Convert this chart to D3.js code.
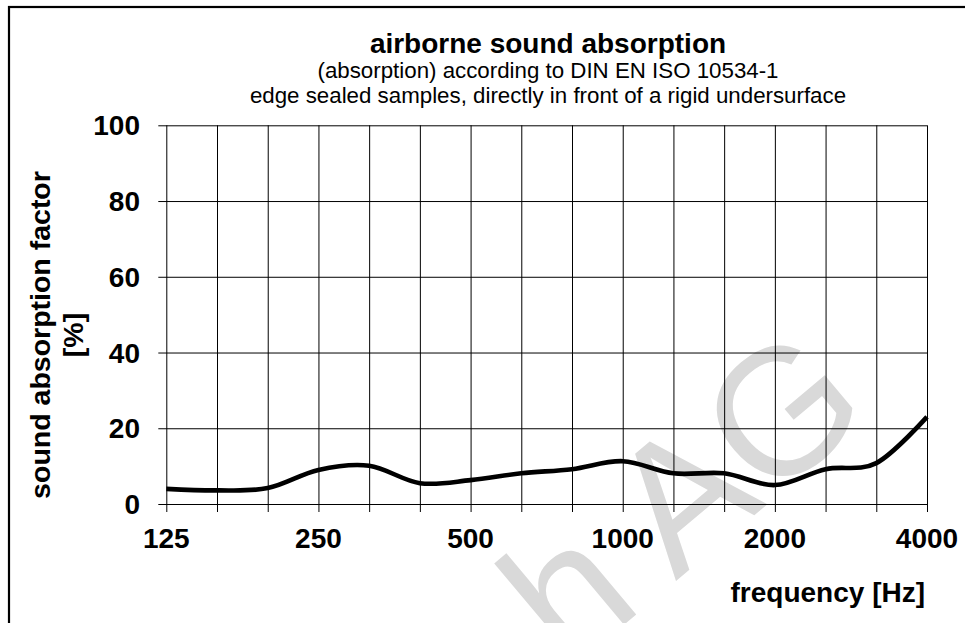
<!DOCTYPE html>
<html>
<head>
<meta charset="utf-8">
<script src="https://cdn.jsdelivr.net/npm/d3@7"></script>
<style>
  html, body { margin: 0; padding: 0; background: #fff; }
  svg { display: block; font-family: "Liberation Sans", Arial, sans-serif; }
</style>
</head>
<body>
<svg id="chart" width="965" height="623"></svg>
<script>
// ---- data ----
const bands = ["125","160","200","250","315","400","500","630","800","1000","1250","1600","2000","2500","3150","4000"];
const absorption = [4.0, 3.6, 4.2, 9.0, 10.1, 5.5, 6.3, 8.1, 9.2, 11.3, 8.1, 8.1, 5.0, 9.2, 10.8, 23.0];
const xTickLabels = ["125","250","500","1000","2000","4000"];
const yTicks = [0, 20, 40, 60, 80, 100];
const titleText = "airborne sound absorption";
const subtitleLines = ["(absorption) according to DIN EN ISO 10534-1",
                       "edge sealed samples, directly in front of a rigid undersurface"];
const yLabelLines = ["sound absorption factor", "[%]"];
const xLabelText = "frequency [Hz]";
const watermarkText = "h AG";

// ---- layout ----
const svg = d3.select("#chart");
const pL = 166.3, pR = 927, pT = 125.3, pB = 504;

const x = d3.scalePoint().domain(bands).range([pL, pR]);
const y = d3.scaleLinear().domain([0, 100]).range([pB, pT]);

// outer frame
svg.append("rect")
  .attr("x", 9).attr("y", 7).attr("width", 1000).attr("height", 700)
  .attr("fill", "none").attr("stroke", "#000").attr("stroke-width", 2.2);

// watermark
svg.append("text")
  .attr("transform", "translate(875,414) rotate(-40)")
  .attr("text-anchor", "end")
  .attr("font-size", 180)
  .attr("fill", "#d9d9d9")
  .text(watermarkText);

// y grid + ticks
const yAxis = d3.axisLeft(y).tickValues(yTicks).tickSize(-(pR - pL) - 8).tickSizeOuter(0).tickFormat("");
svg.append("g")
  .attr("transform", `translate(${pL - 8},0)`)
  .call(yAxis)
  .call(g => g.select(".domain").remove())
  .call(g => g.selectAll("line").attr("stroke", "#000").attr("stroke-width", 1));

// x grid + ticks
const xAxis = d3.axisBottom(x).tickSize(-(pB - pT) - 8).tickSizeOuter(0).tickFormat("");
svg.append("g")
  .attr("transform", `translate(0,${pB + 8})`)
  .call(xAxis)
  .call(g => g.select(".domain").remove())
  .call(g => g.selectAll("line").attr("stroke", "#000").attr("stroke-width", 1));

// y tick labels
svg.append("g").selectAll("text")
  .data(yTicks).join("text")
  .attr("x", 140).attr("y", d => y(d))
  .attr("dy", "0.36em")
  .attr("text-anchor", "end")
  .attr("font-size", 28).attr("font-weight", "bold")
  .text(d => d);

// x tick labels
svg.append("g").selectAll("text")
  .data(xTickLabels).join("text")
  .attr("x", d => x(d)).attr("y", 548)
  .attr("text-anchor", "middle")
  .attr("font-size", 28).attr("font-weight", "bold")
  .text(d => d);

// curve
const line = d3.line()
  .x((d, i) => x(bands[i]))
  .y(d => y(d))
  .curve(d3.curveCardinal.tension(0));
svg.append("path")
  .datum(absorption)
  .attr("d", line)
  .attr("fill", "none")
  .attr("stroke", "#000")
  .attr("stroke-width", 4.6)
  .attr("stroke-linejoin", "round");

// title
svg.append("text")
  .attr("x", 548).attr("y", 53)
  .attr("text-anchor", "middle")
  .attr("font-size", 28).attr("font-weight", "bold")
  .text(titleText);
svg.append("g").selectAll("text")
  .data(subtitleLines).join("text")
  .attr("x", 548).attr("y", (d, i) => 78 + i * 24.5)
  .attr("text-anchor", "middle")
  .attr("font-size", 22.3)
  .text(d => d);

// y label
svg.append("g").selectAll("text")
  .data(yLabelLines).join("text")
  .attr("transform", (d, i) => `translate(${50 + i * 33},335) rotate(-90)`)
  .attr("text-anchor", "middle")
  .attr("font-size", 28.5).attr("font-weight", "bold")
  .text(d => d);

// x label
svg.append("text")
  .attr("x", 925).attr("y", 602)
  .attr("text-anchor", "end")
  .attr("font-size", 28).attr("font-weight", "bold")
  .text(xLabelText);
</script>
</body>
</html>
